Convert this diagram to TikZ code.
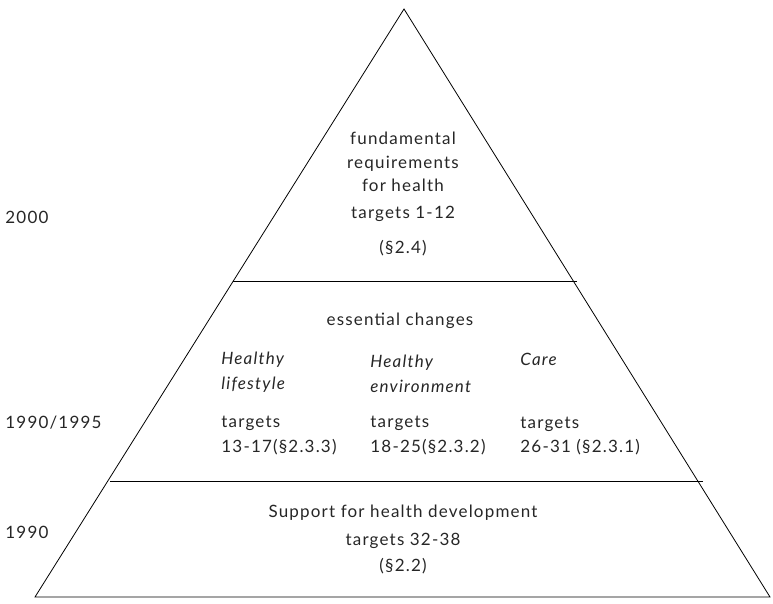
\documentclass[tikz,border=0pt]{standalone}
\usepackage{fontspec}
\setmainfont{Lato}[LetterSpace=7]
\tikzset{
	lbl/.style={inner sep=0pt, anchor=base, text=black!85, font=\fontsize{17}{25}\selectfont},
	lblw/.style={lbl, anchor=base west},
	cat/.style={lblw, font=\fontsize{17}{25}\selectfont\itshape, align=left},
}
\begin{document}
\begin{tikzpicture}[x=1pt, y=-1pt, line width=.8pt]
	\useasboundingbox (0,0) rectangle (773,604);
	\draw     (404,9) -- (35,597) -- (770,597) -- cycle;
	\draw     (233,281) -- (577,281);
	\draw     (110,481) -- (703,481);
	%years
	\node[lblw] (y2000) at (5,223)   {2000};
	\node[lblw] (y1995) at (5,428)   {1990/1995};
	\node[lblw] (y1990) at (5,538)   {1990};
	%top
	\node[lbl]  (fund)  at (403,145) {fundamental};
	\node[lbl]  (req)   at (403,168) {requirements};
	\node[lbl]  (forh)  at (403,191) {for health};
	\node[lbl]  (tgtA)  at (403,218) {targets 1-12};
	\node[lbl]  (refA)  at (403,253) {(\S2.4)};
	%middle
	\node[lbl]  (ess)   at (400,325) {essential changes};
	\node[cat]  (life)  at (221,389) {Healthy\\lifestyle};
	\node[cat]  (env)   at (370,392) {Healthy\\environment};
	\node[cat]  (care)  at (520,365) {Care};
	\node[lblw] (tgtL)  at (221,427) {targets};
	\node[lblw] (refL)  at (221,452) {13-17(\S2.3.3)};
	\node[lblw] (tgtE)  at (370,427) {targets};
	\node[lblw] (refE)  at (370,452) {18-25(\S2.3.2)};
	\node[lblw] (tgtC)  at (520,428) {targets};
	\node[lblw] (refC)  at (520,452) {26-31 (\S2.3.1)};
	%bottom
	\node[lbl]  (supp)  at (403,517) {Support for health development};
	\node[lbl]  (tgtS)  at (403,545) {targets 32-38};
	\node[lbl]  (refS)  at (403,571) {(\S2.2)};
\end{tikzpicture}
\end{document}
